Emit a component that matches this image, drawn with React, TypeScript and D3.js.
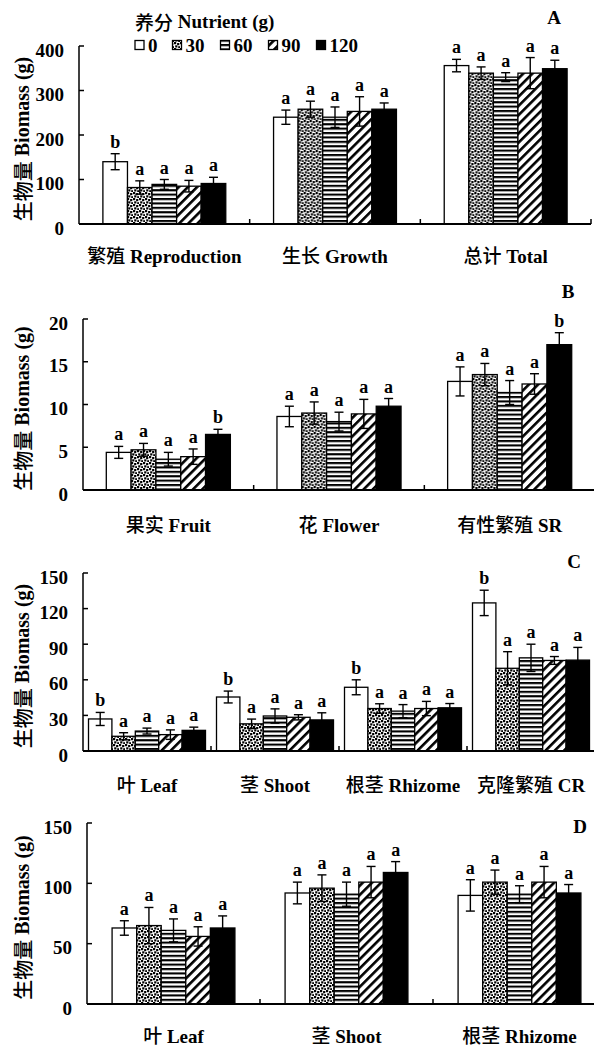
import React from 'react';
import * as d3 from 'd3';

const treatments = ['0', '30', '60', '90', '120'];
const fills = ['white', 'url(#dots)', 'url(#hlines)', 'url(#diag)', 'black'];

// Panel A: 繁殖 / 生长 / 总计
const catsA = ['繁殖 Reproduction', '生长 Growth', '总计 Total'];
const meanA = [[140, 82, 89, 85, 91], [240, 258, 240, 253, 258], [356, 339, 330, 339, 349]];
const seA = [[18, 15, 11, 13, 14], [16, 18, 23, 33, 14], [14, 14, 10, 35, 19]];
const sigA = [['b', 'a', 'a', 'a', 'a'], ['a', 'a', 'a', 'a', 'a'], ['a', 'a', 'a', 'a', 'a']];
const ticksA = [0, 100, 200, 300, 400];

// Panel B: 果实 / 花 / 有性繁殖
const catsB = ['果实 Fruit', '花 Flower', '有性繁殖 SR'];
const meanB = [[4.4, 4.7, 3.6, 3.9, 6.5], [8.6, 9.0, 8.0, 8.9, 9.8], [12.7, 13.5, 11.4, 12.4, 17.0]];
const seB = [[0.7, 0.75, 0.8, 0.9, 0.6], [1.2, 1.3, 1.1, 1.7, 0.9], [1.7, 1.3, 1.4, 1.2, 1.4]];
const sigB = [['a', 'a', 'a', 'a', 'b'], ['a', 'a', 'a', 'a', 'a'], ['a', 'a', 'a', 'a', 'b']];
const ticksB = [0, 5, 10, 15, 20];

// Panel C: 叶 / 茎 / 根茎 / 克隆繁殖
const catsC = ['叶 Leaf', '茎 Shoot', '根茎 Rhizome', '克隆繁殖 CR'];
const meanC = [[27, 12.4, 16.8, 13.8, 17.4], [45.5, 22.9, 29.5, 28.4, 26.2], [53.7, 35.8, 33.6, 35.8, 36.4], [124.8, 69.7, 78.5, 76.3, 76.6]];
const seC = [[5.5, 3, 2.5, 4, 2.7], [5, 4, 6, 2.2, 6], [6.3, 4, 5.5, 6, 3.6], [10.7, 14, 11.5, 3.3, 10.7]];
const sigC = [['b', 'a', 'a', 'a', 'a'], ['b', 'a', 'a', 'a', 'a'], ['b', 'a', 'a', 'a', 'a'], ['b', 'a', 'a', 'a', 'a']];
const ticksC = [0, 30, 60, 90, 120, 150];

// Panel D: 叶 / 茎 / 根茎
const catsD = ['叶 Leaf', '茎 Shoot', '根茎 Rhizome'];
const meanD = [[63, 65, 61, 56, 63], [92, 96, 91, 101, 109], [90, 101, 91, 101, 92]];
const seD = [[6, 15, 9.5, 8, 10], [9, 11, 10, 13, 9], [13, 10, 7, 13, 7]];
const sigD = [['a', 'a', 'a', 'a', 'a'], ['a', 'a', 'a', 'a', 'a'], ['a', 'a', 'a', 'a', 'a']];
const ticksD = [0, 50, 100, 150];

const panels = [
  { tag: 'A', cats: catsA, mean: meanA, se: seA, sig: sigA, ticks: ticksA, x0: 79, x1: 591, top: 46, base: 224, group: 0.72, labelY: 263, tagX: 554, tagY: 17 },
  { tag: 'B', cats: catsB, mean: meanB, se: seB, sig: sigB, ticks: ticksB, x0: 83, x1: 595, top: 319, base: 490, group: 0.727, labelY: 532, tagX: 568, tagY: 291 },
  { tag: 'C', cats: catsC, mean: meanC, se: seC, sig: sigC, ticks: ticksC, x0: 83, x1: 595, top: 573, base: 751, group: 0.914, labelY: 792, tagX: 574, tagY: 561 },
  { tag: 'D', cats: catsD, mean: meanD, se: seD, sig: sigD, ticks: ticksD, x0: 87, x1: 606, top: 823, base: 1004, group: 0.71, labelY: 1043, tagX: 580, tagY: 826 },
];

const latin = "'Liberation Serif', 'Times New Roman', serif";
const cjk = "'Noto Sans CJK SC', sans-serif";

// split "繁殖 Reproduction" into CJK part and bold Latin part
const MixedText = ({ label, ...rest }: any) => {
  const i = label.indexOf(' ');
  const zh = label.slice(0, i);
  const en = label.slice(i);
  return (
    <text {...rest}>
      <tspan fontFamily={cjk} fontWeight={500}>{zh}</tspan>
      <tspan fontFamily={latin} fontWeight="bold">{en}</tspan>
    </text>
  );
};

const Panel = ({ p }: any) => {
  const max = p.ticks[p.ticks.length - 1];
  const y = d3.scaleLinear().domain([0, max]).range([p.base, p.top]);
  const x = d3.scaleBand().domain(p.cats).range([p.x0, p.x1]);
  const bw = x.bandwidth();
  const inner = d3.scaleBand().domain(treatments)
    .range([bw * (1 - p.group) / 2, bw * (1 + p.group) / 2]);
  const barW = inner.bandwidth();

  return (
    <g>
      {p.cats.map((c: string, ci: number) => (
        <g key={c} transform={`translate(${x(c)},0)`}>
          {treatments.map((t, ti) => {
            const v = p.mean[ci][ti];
            const e = p.se[ci][ti];
            const bx = inner(t)!;
            const cx = bx + barW / 2;
            const yTop = y(v + e);
            const yBot = y(Math.max(0, v - e));
            return (
              <g key={t}>
                <rect x={bx} y={y(v)} width={barW} height={p.base - y(v)}
                  fill={fills[ti]} stroke="black" strokeWidth={1.3} />
                <line x1={cx} x2={cx} y1={yTop} y2={yBot} stroke="black" strokeWidth={1.4} />
                <line x1={cx - 4.5} x2={cx + 4.5} y1={yTop} y2={yTop} stroke="black" strokeWidth={1.4} />
                <line x1={cx - 4.5} x2={cx + 4.5} y1={yBot} y2={yBot} stroke="black" strokeWidth={1.4} />
                <text x={cx} y={yTop - 6} textAnchor="middle" fontFamily={latin}
                  fontWeight="bold" fontSize={18}>{p.sig[ci][ti]}</text>
              </g>
            );
          })}
          <MixedText label={c} x={bw / 2} y={p.labelY} textAnchor="middle" fontSize={19} />
        </g>
      ))}

      {/* y axis, inward ticks */}
      <line x1={p.x0} x2={p.x0} y1={p.top} y2={p.base} stroke="black" strokeWidth={1.5} />
      {p.ticks.map((t: number) => (
        <g key={t}>
          {t > 0 && <line x1={p.x0} x2={p.x0 + 5} y1={y(t)} y2={y(t)} stroke="black" strokeWidth={1.5} />}
          <text x={p.x0 - 15} y={y(t) + 4} textAnchor="end" dominantBaseline="central"
            fontFamily={latin} fontWeight="bold" fontSize={19}>{t}</text>
        </g>
      ))}
      {/* x axis with category separators */}
      <line x1={p.x0} x2={p.x1} y1={p.base} y2={p.base} stroke="black" strokeWidth={2} />
      {p.cats.map((c: string) => (
        <line key={c} x1={x(c)! + bw} x2={x(c)! + bw} y1={p.base} y2={p.base - 5} stroke="black" strokeWidth={1.5} />
      ))}

      <MixedText label="生物量 Biomass (g)" transform={`translate(22,${(p.top + p.base) / 2 + 4}) rotate(-90)`}
        textAnchor="middle" dominantBaseline="central" fontSize={20} />
      <text x={p.tagX} y={p.tagY} textAnchor="middle" dominantBaseline="central"
        fontFamily={latin} fontWeight="bold" fontSize={19}>{p.tag}</text>
    </g>
  );
};

const Legend = () => {
  let cursor = 135;
  const items = treatments.map((t, i) => {
    const sx = cursor;
    cursor += 13 + t.length * 10.5 + 14;
    return (
      <g key={t}>
        <rect x={sx} y={40.5} width={9} height={9} fill={fills[i]} stroke="black" strokeWidth={1.3} />
        <text x={sx + 13} y={45} dominantBaseline="central" fontFamily={latin}
          fontWeight="bold" fontSize={19}>{t}</text>
      </g>
    );
  });
  return (
    <g>
      <text x={135} y={21} dominantBaseline="central" fontSize={19}>
        <tspan fontFamily={cjk} fontWeight={500}>养分</tspan>
        <tspan fontFamily={latin} fontWeight="bold"> Nutrient (g)</tspan>
      </text>
      {items}
    </g>
  );
};

export default function App() {
  return (
    <svg width={594} height={1049} style={{ position: 'absolute', left: 0, top: 0, background: 'white' }}>
      <defs>
        <pattern id="dots" patternUnits="userSpaceOnUse" width={6} height={6}>
          <rect width={6} height={6} fill="white" />
          <rect x={0} y={0} width={2.2} height={2.2} fill="black" />
          <rect x={3.1} y={1.0} width={2.2} height={2.2} fill="black" />
          <rect x={1.2} y={3.3} width={2.2} height={2.2} fill="black" />
          <rect x={4.2} y={4.2} width={1.8} height={1.8} fill="black" />
        </pattern>
        <pattern id="hlines" patternUnits="userSpaceOnUse" width={8} height={4.4}>
          <rect width={8} height={4.4} fill="white" />
          <rect y={0} width={8} height={2.1} fill="black" />
        </pattern>
        <pattern id="diag" patternUnits="userSpaceOnUse" width={6.5} height={6.5} patternTransform="rotate(45)">
          <rect width={6.5} height={6.5} fill="white" />
          <rect x={0} y={0} width={2.6} height={6.5} fill="black" />
        </pattern>
      </defs>
      <rect width={594} height={1049} fill="white" />
      <Legend />
      {panels.map((p) => <Panel key={p.tag} p={p} />)}
    </svg>
  );
}
